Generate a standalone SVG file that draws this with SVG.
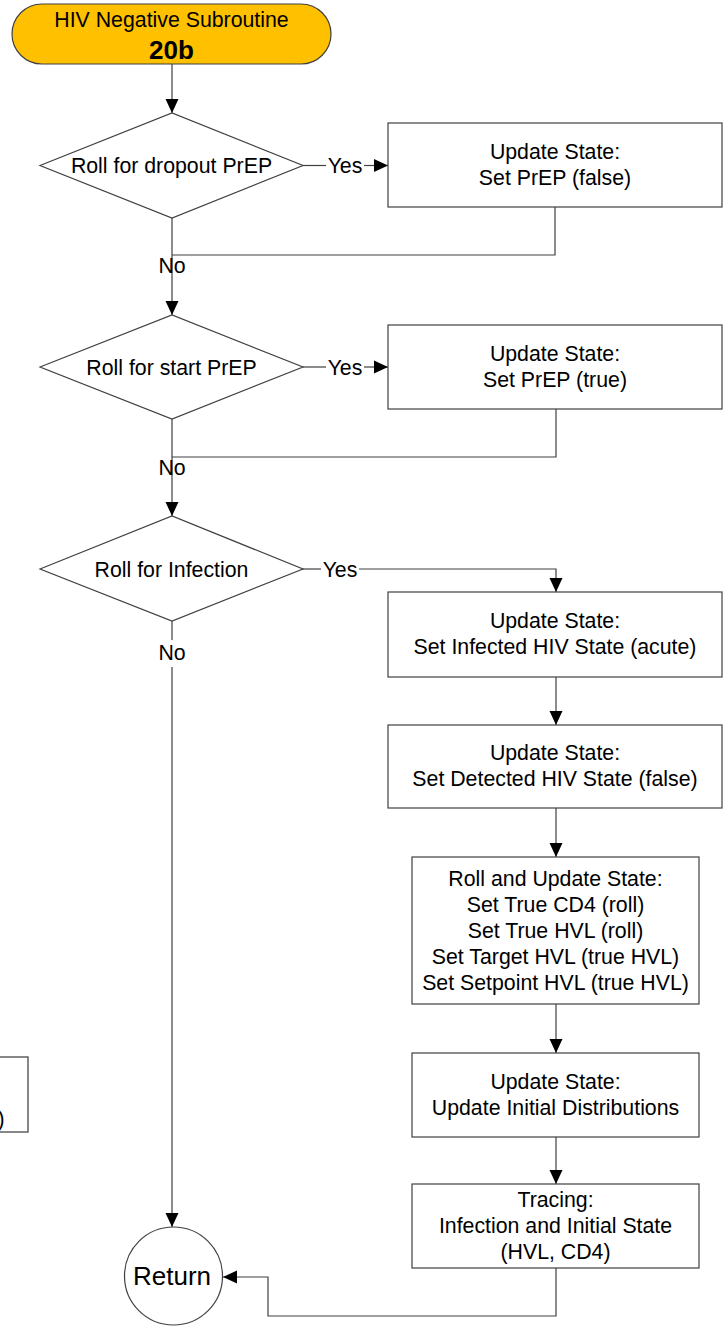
<svg xmlns="http://www.w3.org/2000/svg" width="723" height="1327" viewBox="0 0 723 1327">
<defs>
<marker id="arr" viewBox="0 0 14 14" refX="14" refY="7" markerWidth="14" markerHeight="14" markerUnits="userSpaceOnUse" orient="auto">
<path d="M0,0.5 L14,7 L0,13.5 Z" fill="#000"/>
</marker>
<style>
.shape{fill:#fff;stroke:#404040;stroke-width:1.2}
.term{fill:#FFC000;stroke:#404040;stroke-width:1.2}
.t{font-family:"Liberation Sans",Arial,sans-serif;font-size:21.3px;fill:#000;text-anchor:middle}
.b{font-family:"Liberation Sans",Arial,sans-serif;font-size:26px;font-weight:bold;fill:#000;text-anchor:middle}
.r{font-family:"Liberation Sans",Arial,sans-serif;font-size:26px;fill:#000;text-anchor:middle}
.c{fill:none;stroke:#404040;stroke-width:1.2}
.ca{fill:none;stroke:#404040;stroke-width:1.2;marker-end:url(#arr)}
.lab{font-family:"Liberation Sans",Arial,sans-serif;font-size:21.3px;fill:#000;text-anchor:middle}
</style>
</defs>
<rect width="723" height="1327" fill="#fff"/>

<g id="connectors">
<path class="ca" d="M172,64 V113"/>
<path class="c" d="M303,165.5 H326"/>
<path class="ca" d="M364,165.5 H388"/>
<path class="c" d="M555,207 V255 H172"/>
<path class="ca" d="M172,218 V315"/>
<path class="c" d="M303,367 H326"/>
<path class="ca" d="M364,367 H388"/>
<path class="c" d="M556,409 V457 H172"/>
<path class="ca" d="M172,419 V516"/>
<path class="c" d="M303,569 H321"/>
<path class="ca" d="M359,569 H556 V592"/>
<path class="c" d="M172,621 V640"/>
<path class="ca" d="M172,667 V1227"/>
<path class="ca" d="M556,677 V725"/>
<path class="ca" d="M556,808 V857"/>
<path class="ca" d="M556,1004 V1053"/>
<path class="ca" d="M556,1137 V1184"/>
<path class="ca" d="M556,1268 V1316 H268 V1277 H223"/>
<text class="lab" x="345" y="173">Yes</text>
<text class="lab" x="172" y="273">No</text>
<text class="lab" x="345" y="374.5">Yes</text>
<text class="lab" x="172" y="474.5">No</text>
<text class="lab" x="340" y="576.5">Yes</text>
<text class="lab" x="172" y="660">No</text>
</g>

<g id="start">
<rect class="term" x="12" y="4" width="319" height="60" rx="30" ry="30"/>
<text class="t" x="171.5" y="27">HIV Negative Subroutine</text>
<text class="b" x="171.5" y="59">20b</text>
</g>

<g id="dropout">
<polygon class="shape" points="40,165.5 172,113 303,165.5 172,218"/>
<text class="t" x="171.5" y="173">Roll for dropout PrEP</text>
</g>

<g id="prep-false">
<rect class="shape" x="388" y="123" width="334" height="84"/>
<text class="t" x="555" y="159">Update State:</text>
<text class="t" x="555" y="185">Set PrEP (false)</text>
</g>

<g id="start-prep">
<polygon class="shape" points="40,367 172,315 303,367 172,419"/>
<text class="t" x="171.5" y="374.5">Roll for start PrEP</text>
</g>

<g id="prep-true">
<rect class="shape" x="388" y="325" width="334" height="84"/>
<text class="t" x="555" y="361">Update State:</text>
<text class="t" x="555" y="387">Set PrEP (true)</text>
</g>

<g id="infection">
<polygon class="shape" points="40,569 172,516 303,569 172,621"/>
<text class="t" x="171.5" y="576.5">Roll for Infection</text>
</g>

<g id="infected">
<rect class="shape" x="388" y="592" width="334" height="85"/>
<text class="t" x="555" y="628">Update State:</text>
<text class="t" x="555" y="654">Set Infected HIV State (acute)</text>
</g>

<g id="detected">
<rect class="shape" x="388" y="725" width="334" height="83"/>
<text class="t" x="555" y="760">Update State:</text>
<text class="t" x="555" y="786">Set Detected HIV State (false)</text>
</g>

<g id="roll-update">
<rect class="shape" x="412" y="857" width="287" height="147"/>
<text class="t" x="555.5" y="886">Roll and Update State:</text>
<text class="t" x="555.5" y="912">Set True CD4 (roll)</text>
<text class="t" x="555.5" y="938">Set True HVL (roll)</text>
<text class="t" x="555.5" y="964">Set Target HVL (true HVL)</text>
<text class="t" x="555.5" y="990">Set Setpoint HVL (true HVL)</text>
</g>

<g id="distributions">
<rect class="shape" x="412" y="1053" width="287" height="84"/>
<text class="t" x="555.5" y="1089">Update State:</text>
<text class="t" x="555.5" y="1115">Update Initial Distributions</text>
</g>

<g id="tracing">
<rect class="shape" x="412" y="1184" width="287" height="84"/>
<text class="t" x="555.5" y="1207">Tracing:</text>
<text class="t" x="555.5" y="1233">Infection and Initial State</text>
<text class="t" x="555.5" y="1259">(HVL, CD4)</text>
</g>

<g id="return">
<circle class="shape" cx="173.5" cy="1276" r="49"/>
<text class="r" x="172" y="1285">Return</text>
</g>

<g id="offpage-box">
<path d="M0,1057 H28 V1132 H0" fill="none" stroke="#606060" stroke-width="1.5"/>
<text class="t" x="1" y="1126">)</text>
</g>
</svg>
